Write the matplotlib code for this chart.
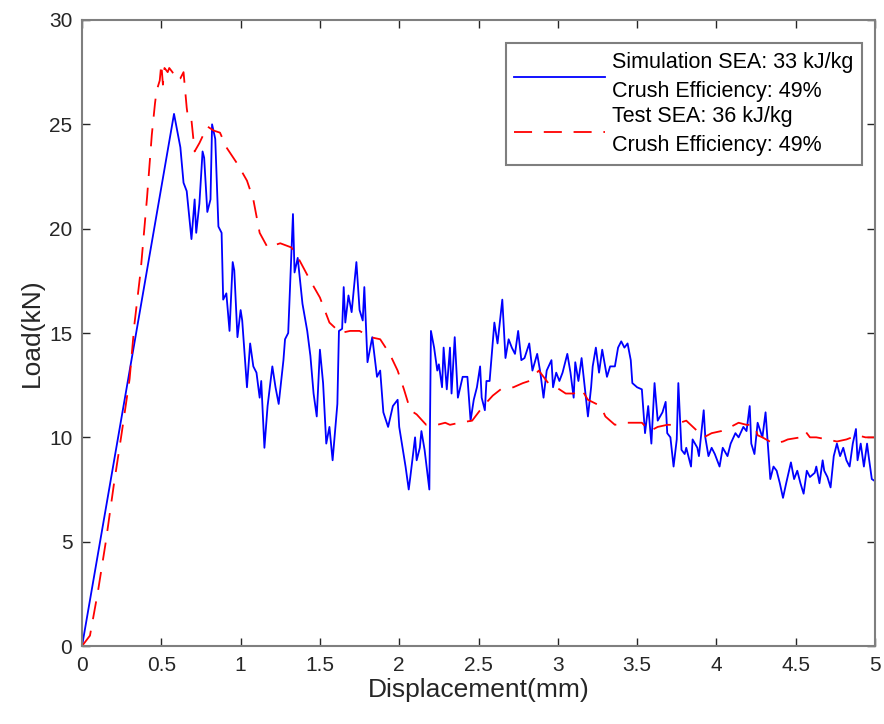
import matplotlib
matplotlib.use('Agg')
import matplotlib.pyplot as plt

plt.rcParams['font.family'] = ['Liberation Sans', 'DejaVu Sans']

# simulation (blue)
sim_x = [0, 0.58, 0.62, 0.64, 0.66, 0.69, 0.71, 0.72, 0.74, 0.76, 0.77, 0.79, 0.81, 0.82, 0.84,
         0.86, 0.88, 0.89, 0.91, 0.93, 0.95, 0.96, 0.98, 1.0, 1.01, 1.04, 1.06, 1.08, 1.1, 1.12,
         1.13, 1.15, 1.17, 1.2, 1.22, 1.24, 1.27, 1.28, 1.3, 1.33, 1.34, 1.36, 1.39, 1.42, 1.44,
         1.46, 1.48, 1.5, 1.52, 1.54, 1.56, 1.58, 1.61, 1.62, 1.64, 1.65, 1.66, 1.68, 1.7, 1.73,
         1.75, 1.77, 1.78, 1.8, 1.83, 1.86, 1.88, 1.9, 1.93, 1.96, 1.99, 2.0, 2.04, 2.06, 2.07,
         2.1, 2.11, 2.13, 2.14, 2.16, 2.19, 2.2, 2.22, 2.24, 2.25, 2.27, 2.28, 2.3, 2.32, 2.33,
         2.35, 2.37, 2.4, 2.43, 2.45, 2.47, 2.49, 2.51, 2.52, 2.54, 2.55, 2.57, 2.6, 2.62, 2.65,
         2.67, 2.69, 2.71, 2.73, 2.75, 2.77, 2.79, 2.82, 2.84, 2.87, 2.89, 2.91, 2.93, 2.96, 2.97,
         2.99, 3.01, 3.03, 3.06, 3.08, 3.1, 3.11, 3.13, 3.15, 3.17, 3.19, 3.21, 3.22, 3.24, 3.26,
         3.28, 3.31, 3.33, 3.36, 3.38, 3.4, 3.42, 3.44, 3.46, 3.47, 3.5, 3.53, 3.55, 3.57, 3.59,
         3.61, 3.63, 3.66, 3.68, 3.69, 3.71, 3.73, 3.75, 3.76, 3.78, 3.8, 3.81, 3.84, 3.85, 3.88,
         3.89, 3.92, 3.93, 3.95, 3.97, 3.99, 4.02, 4.04, 4.07, 4.09, 4.12, 4.14, 4.17, 4.19, 4.21,
         4.22, 4.24, 4.26, 4.29, 4.31, 4.33, 4.34, 4.36, 4.38, 4.4, 4.42, 4.44, 4.47, 4.49, 4.51,
         4.53, 4.55, 4.57, 4.59, 4.62, 4.63, 4.65, 4.67, 4.68, 4.7, 4.72, 4.74, 4.76, 4.78, 4.8,
         4.82, 4.84, 4.86, 4.88, 4.89, 4.91, 4.93, 4.95, 4.96, 4.98, 5.0]
sim_y = [0, 25.5, 23.9, 22.2, 21.8, 19.5, 21.4, 19.8, 21.2, 23.7, 23.4, 20.8, 21.4, 25.0, 24.3,
         20.1, 19.8, 16.6, 16.9, 15.1, 18.4, 18.0, 14.8, 16.1, 15.6, 12.4, 14.5, 13.4, 13.1, 11.9,
         12.7, 9.5, 11.5, 13.4, 12.4, 11.6, 13.7, 14.7, 15.0, 20.7, 17.9, 18.6, 16.4, 15.1, 13.9,
         12.1, 11.0, 14.2, 12.6, 9.7, 10.5, 8.9, 11.6, 15.1, 15.2, 17.2, 15.5, 16.8, 16.0, 18.4,
         16.1, 15.6, 17.2, 13.6, 14.8, 12.9, 13.2, 11.2, 10.5, 11.5, 11.8, 10.5, 8.6, 7.5, 8.1,
         10.0, 8.9, 9.5, 10.3, 9.4, 7.5, 15.1, 14.3, 13.2, 13.5, 12.4, 14.3, 12.3, 14.3, 12.1,
         14.8, 11.9, 12.9, 12.9, 10.8, 11.8, 12.4, 13.4, 11.9, 11.3, 12.7, 12.7, 15.5, 14.5, 16.6,
         13.8, 14.7, 14.3, 14.0, 15.1, 13.7, 13.8, 14.5, 13.2, 14.0, 13.1, 11.9, 13.2, 13.7, 12.4,
         13.1, 12.7, 13.1, 14.0, 13.1, 11.9, 13.6, 12.7, 13.8, 12.4, 11.0, 12.4, 13.4, 14.3, 13.1,
         14.2, 12.9, 13.4, 13.4, 14.3, 14.6, 14.3, 14.5, 13.7, 12.6, 12.4, 12.3, 10.2, 11.5, 9.7,
         12.6, 10.8, 11.2, 11.7, 10.2, 10.0, 8.6, 9.9, 12.6, 9.4, 9.2, 9.5, 8.6, 9.9, 9.5,
         9.1, 11.3, 10.0, 9.1, 9.5, 9.2, 8.6, 9.5, 9.1, 9.7, 10.2, 10.0, 10.5, 10.3, 11.5,
         9.7, 9.2, 10.7, 10.0, 11.2, 9.1, 8.0, 8.6, 8.4, 7.8, 7.1, 7.8, 8.8, 8.0, 8.4,
         7.8, 7.3, 8.4, 8.1, 8.3, 8.6, 7.8, 8.9, 8.4, 8.1, 7.6, 9.1, 9.7, 9.1, 9.5,
         8.9, 8.6, 9.7, 10.4, 8.9, 9.7, 8.6, 9.7, 9.1, 8.0, 7.9]

# test (red dashed)
test_x = [0.0, 0.05, 0.1, 0.15, 0.2, 0.25, 0.3, 0.33, 0.37, 0.41, 0.44, 0.46, 0.47, 0.49, 0.5,
          0.51, 0.52, 0.54, 0.55, 0.57, 0.6, 0.62, 0.64, 0.66, 0.67, 0.69, 0.71, 0.74, 0.79, 0.83,
          0.87, 0.91, 0.98, 1.04, 1.08, 1.12, 1.17, 1.25, 1.32, 1.37, 1.44, 1.5, 1.56, 1.63, 1.69,
          1.75, 1.82, 1.88, 1.94, 1.99, 2.03, 2.07, 2.11, 2.17, 2.24, 2.29, 2.32, 2.38, 2.46, 2.53,
          2.59, 2.64, 2.72, 2.78, 2.82, 2.88, 2.91, 2.94, 2.99, 3.05, 3.1, 3.15, 3.19, 3.27, 3.3,
          3.36, 3.41, 3.47, 3.53, 3.58, 3.63, 3.69, 3.73, 3.77, 3.81, 3.88, 3.92, 3.97, 4.03, 4.09,
          4.14, 4.19, 4.24, 4.26, 4.29, 4.36, 4.42, 4.45, 4.53, 4.56, 4.59, 4.63, 4.7, 4.76, 4.82,
          4.89, 4.94, 5.0]
test_y = [0.0, 0.5, 2.6, 5.0, 7.7, 10.2, 12.8, 15.4, 18.0, 21.5, 24.5, 26.0, 26.6, 27.1, 27.9,
          26.9, 27.7, 27.5, 27.7, 27.5, 27.1, 27.2, 27.5, 25.8, 25.2, 25.2, 23.7, 24.1, 24.9, 24.7,
          24.6, 23.9, 23.1, 22.3, 21.4, 19.8, 19.1, 19.3, 19.1, 18.5, 17.5, 16.7, 15.5, 15.0, 15.1,
          15.1, 14.8, 14.7, 14.0, 13.2, 12.3, 11.3, 11.1, 10.6, 10.6, 10.7, 10.6, 10.7, 10.8, 11.5,
          12.0, 12.3, 12.4, 12.6, 12.7, 13.2, 12.9, 12.6, 12.4, 12.1, 12.1, 12.3, 11.8, 11.5, 11.0,
          10.6, 10.7, 10.7, 10.7, 10.3, 10.5, 10.6, 10.6, 10.7, 10.8, 10.3, 10.0, 10.2, 10.3, 10.5,
          10.7, 10.6, 10.6, 10.1, 10.0, 9.7, 9.8, 9.9, 10.0, 10.3, 10.0, 10.0, 9.9, 9.8, 9.9,
          10.1, 10.0, 10.0]

sim_label = 'Simulation SEA: 33 kJ/kg\nCrush Efficiency: 49%'
test_label = 'Test SEA: 36 kJ/kg\nCrush Efficiency: 49%'

fig = plt.figure(figsize=(8.84, 7.24), dpi=100)
ax = fig.add_axes([0.0928, 0.1077, 0.897, 0.8647])

ax.plot(sim_x, sim_y, color='#0000ff', lw=1.3, label=sim_label)
ax.plot(test_x, test_y, color='#ff0000', lw=1.3, ls=(0, (10, 6.5)), label=test_label)

ax.set_xlim(0, 5)
ax.set_ylim(0, 30)
ax.set_xticks([0, 0.5, 1, 1.5, 2, 2.5, 3, 3.5, 4, 4.5, 5])
ax.set_xticklabels(['0', '0.5', '1', '1.5', '2', '2.5', '3', '3.5', '4', '4.5', '5'])
ax.set_yticks([0, 5, 10, 15, 20, 25, 30])
ax.tick_params(direction='in', top=True, right=True, length=6, width=1,
               labelsize=15, colors='#262626', pad=7)
for s in ax.spines.values():
    s.set_color('#7f7f7f')
    s.set_linewidth(1.5)

ax.set_xlabel('Displacement(mm)', fontsize=19, color='#262626', labelpad=2)
ax.set_ylabel('Load(kN)', fontsize=19, color='#262626', labelpad=4)

leg = ax.legend(loc='upper right', bbox_to_anchor=(0.984, 0.963), borderaxespad=0,
                fontsize=15.5, handlelength=4.2, fancybox=False, framealpha=1,
                edgecolor='#7f7f7f', labelspacing=0.22, handletextpad=0.35,
                borderpad=0.4)
leg.get_frame().set_linewidth(1.5)
for t in leg.get_texts():
    t.set_linespacing(1.5)

fig.savefig('out.png', dpi=100)
